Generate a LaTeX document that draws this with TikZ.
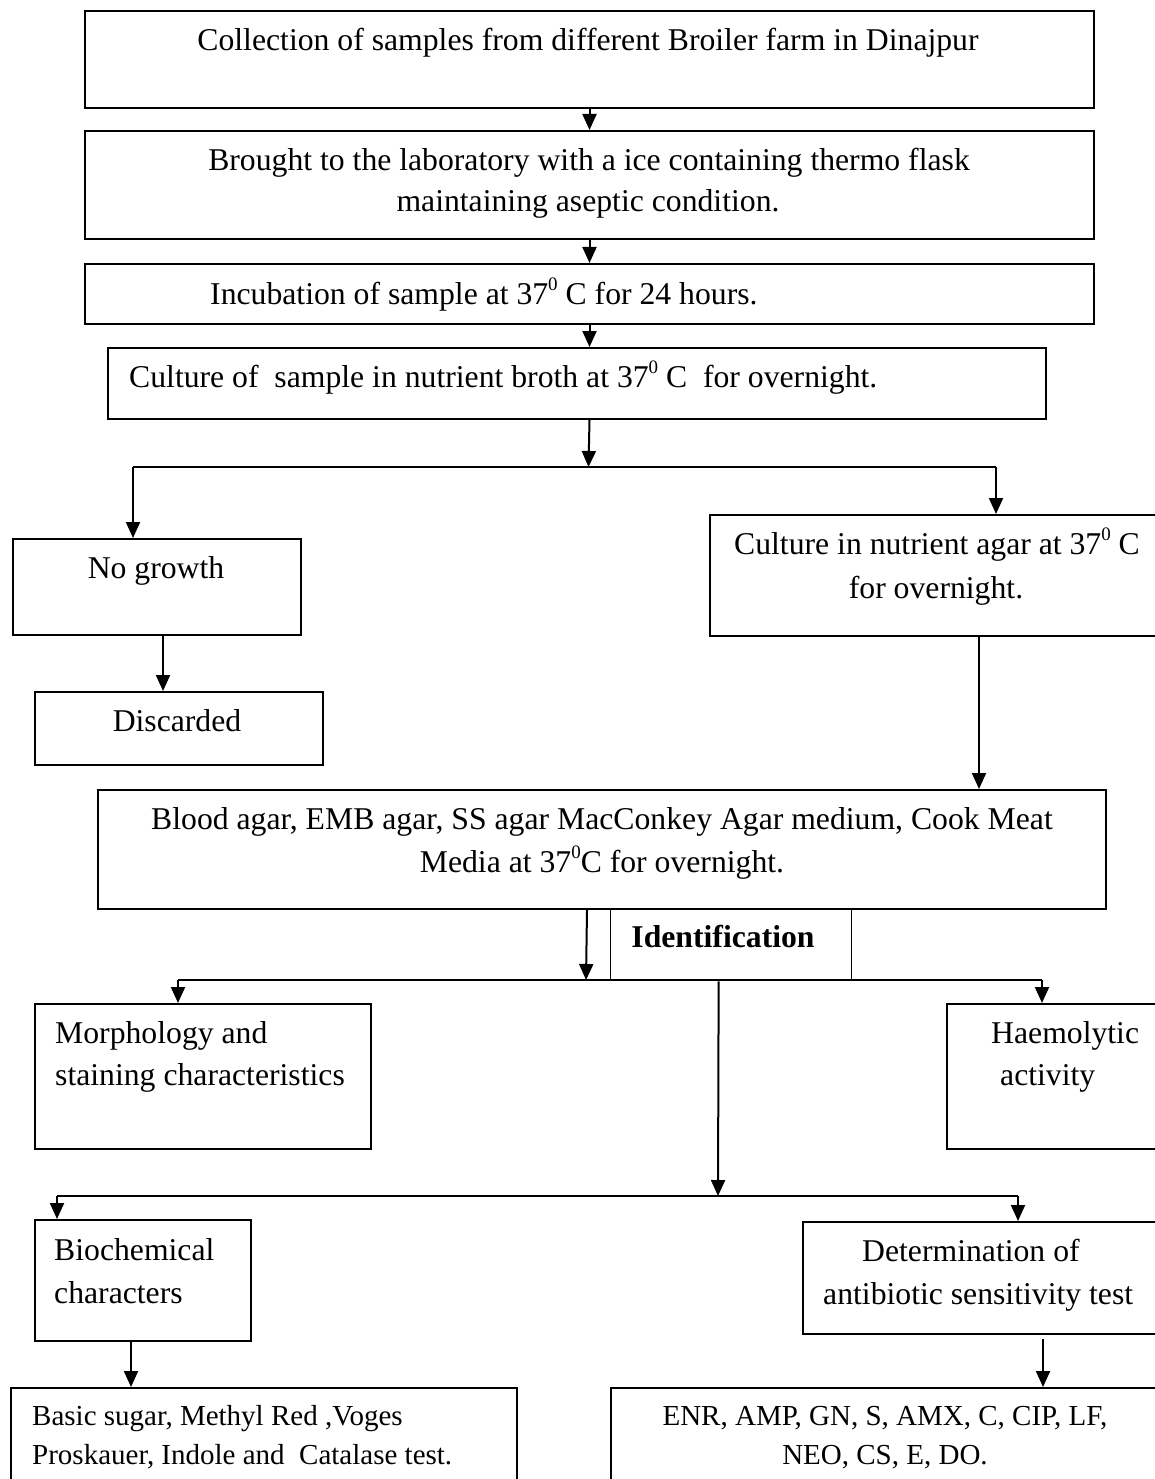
\documentclass[tikz,border=0pt]{standalone}
\usepackage{fontspec}
\setmainfont{Liberation Serif}
\usetikzlibrary{arrows.meta,positioning,calc}
\newcommand{\degsup}{\raisebox{0.42em}{\fontsize{19}{19}\selectfont 0}}
\begin{document}
\begin{tikzpicture}[x=1pt,y=-1pt,
  box/.style={draw,line width=2pt,rectangle,inner sep=0pt,anchor=north west},
  thinbox/.style={draw,line width=1.3pt,rectangle,inner sep=0pt,anchor=north west},
  txt/.style={inner sep=0pt,font=\fontsize{31.7}{40}\selectfont},
  stxt/.style={inner sep=0pt,font=\fontsize{29}{38}\selectfont},
  conn/.style={line width=2pt},
  arr/.style={line width=2pt,-{Triangle[length=16pt,width=14pt]}}]
\clip (0,0) rectangle (1155,1479);
\useasboundingbox (0,0) rectangle (1155,1479);
\fill[white] (0,0) rectangle (1155,1479);
% boxes
\node[box,minimum width=1009pt,minimum height=97pt] (b1) at (84,10) {};
\node[box,minimum width=1009pt,minimum height=108pt] (b2) at (84,130) {};
\node[box,minimum width=1009pt,minimum height=60pt] (b3) at (84,263) {};
\node[box,minimum width=938pt,minimum height=71pt] (b4) at (107,347) {};
\node[box,minimum width=288pt,minimum height=96pt] (ng) at (12,538) {};
\node[box,minimum width=451pt,minimum height=121pt] (ca) at (709,514) {};
\node[box,minimum width=288pt,minimum height=73pt] (dis) at (34,691) {};
\node[box,minimum width=1008pt,minimum height=119pt] (ba) at (97,789) {};
\node[thinbox,minimum width=241pt,minimum height=72pt] (id) at (610,908) {};
\node[box,minimum width=336pt,minimum height=145pt] (mo) at (34,1003) {};
\node[box,minimum width=214pt,minimum height=145pt] (hae) at (946,1003) {};
\node[box,minimum width=216pt,minimum height=121pt] (bio) at (34,1219) {};
\node[box,minimum width=358pt,minimum height=112pt] (det) at (802,1221) {};
\node[box,minimum width=506pt,minimum height=110pt] (bs) at (10,1387) {};
\node[box,minimum width=550pt,minimum height=110pt] (enr) at (610,1387) {};
% texts
\node[txt,anchor=base] (t1) at (588,51) {Collection of samples from different Broiler farm in Dinajpur};
\node[txt,anchor=base] (t2a) at (589,171) {Brought to the laboratory with a ice containing thermo flask};
\node[txt,anchor=base] (t2b) at (588,212) {maintaining aseptic condition.};
\node[txt,anchor=base west] (t3) at (210,304) {Incubation of sample at 37\degsup\ C for 24 hours.};
\node[txt,anchor=base west] (t4) at (129,387) {Culture of\ \ sample in nutrient broth at 37\degsup\ C\ \ for overnight.};
\node[txt,anchor=base] (tng) at (156,578) {No growth};
\node[txt,anchor=base] (tdis) at (177,731) {Discarded};
\node[txt,anchor=base] (tca1) at (937,554) {Culture in nutrient agar at 37\degsup\ C};
\node[txt,anchor=base] (tca2) at (936,598) {for overnight.};
\node[txt,anchor=base] (tba1) at (602,829) {Blood agar, EMB agar, SS agar MacConkey Agar medium, Cook Meat};
\node[txt,anchor=base] (tba2) at (602,872) {Media at 37\degsup C for overnight.};
\node[txt,anchor=base,font=\fontsize{31.7}{40}\selectfont\bfseries] (tid) at (723,947) {Identification};
\node[txt,anchor=base west] (tmo1) at (55,1043) {Morphology and};
\node[txt,anchor=base west] (tmo2) at (55,1085) {staining characteristics};
\node[txt,anchor=base west] (th1) at (991,1043) {Haemolytic};
\node[txt,anchor=base west] (th2) at (1000,1085) {activity};
\node[txt,anchor=base west] (tb1) at (54,1260) {Biochemical};
\node[txt,anchor=base west] (tb2) at (54,1303) {characters};
\node[txt,anchor=base west] (td1) at (862,1261) {Determination of};
\node[txt,anchor=base west] (td2) at (823,1304) {antibiotic sensitivity test};
\node[stxt,anchor=base west] (tbs1) at (32,1425) {Basic sugar, Methyl Red ,Voges};
\node[stxt,anchor=base west] (tbs2) at (32,1464) {Proskauer, Indole and\ \ Catalase test.};
\node[stxt,anchor=base] (te1) at (885,1425) {ENR, AMP, GN, S, AMX, C, CIP, LF,};
\node[stxt,anchor=base] (te2) at (885,1464) {NEO, CS, E, DO.};
% junction coordinates
\coordinate (j1) at (588.5,467);
\coordinate (j1l) at (133,467);
\coordinate (j1r) at (996,467);
\coordinate (j2) at (586,980);
\coordinate (j2l) at (178,980);
\coordinate (j2r) at (1042,980);
\coordinate (j3) at (718,1196);
\coordinate (j3l) at (57,1196);
\coordinate (j3r) at (1018,1196);
% connectors
\draw[arr] (b1) -- (b2);
\draw[arr] (b2) -- (b3);
\draw[arr] (b3.south) -- (b3.south |- b4.north);
\draw[arr] (b3.south |- b4.south) -- (j1);
\draw[conn] (j1l) -- (j1r);
\draw[arr] (j1l) -- (j1l |- ng.north);
\draw[arr] (j1r) -- (j1r |- ca.north);
\draw[arr] ([xshift=6pt]ng.south) -- ([xshift=6pt]ng.south |- dis.north);
\draw[arr] ([xshift=43.5pt]ca.south) -- ([xshift=43.5pt]ca.south |- ba.north);
\draw[arr] ([xshift=-15pt]ba.south) -- (j2);
\draw[conn] (j2l) -- (j2r);
\draw[arr] (j2l) -- (j2l |- mo.north);
\draw[arr] (j2r) -- (j2r |- hae.north);
\draw[arr] ([xshift=-12.5pt]id.south) -- (j3);
\draw[conn] (j3l) -- (j3r);
\draw[arr] (j3l) -- (j3l |- bio.north);
\draw[arr] (j3r) -- (j3r |- det.north);
\draw[arr] ([xshift=-12pt]bio.south) -- ([xshift=-12pt]bio.south |- bs.north);
\draw[arr,shorten <=4pt] ([xshift=61pt]det.south) -- ([xshift=61pt]det.south |- enr.north);
\end{tikzpicture}
\end{document}
